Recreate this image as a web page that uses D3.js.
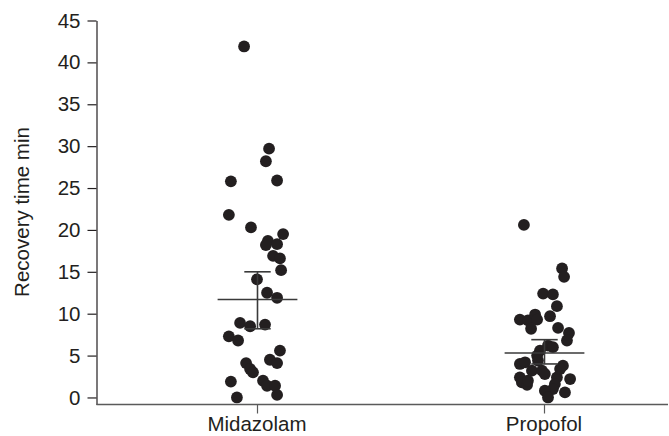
<!DOCTYPE html>
<html><head><meta charset="utf-8">
<script src="https://cdn.jsdelivr.net/npm/d3@7"></script>
<style>body{margin:0;background:#fff} text{font-family:"Liberation Sans",Arial,sans-serif;fill:#231f20}</style>
</head><body><svg id="c" width="669" height="436"></svg>
<script>
const categories = ["Midazolam", "Propofol"];
const midazolamValues = [41.9, 29.7, 28.2, 25.8, 25.9, 21.8, 20.3, 19.5, 18.7, 18.3, 18.2, 16.9, 16.6, 15.2, 14.1, 12.5, 11.9, 8.9, 8.5, 8.7, 7.3, 6.8, 5.6, 4.5, 4.1, 4.1, 3.4, 3.0, 2.0, 1.4, 1.4, 0.3, 1.9, 0.0];
const midazolamJitter = [-0.045, 0.042, 0.031, -0.091, 0.070, -0.098, -0.021, 0.091, 0.038, 0.070, 0.031, 0.056, 0.080, 0.084, 0.000, 0.035, 0.070, -0.059, -0.024, 0.028, -0.098, -0.066, 0.080, 0.045, 0.070, -0.038, -0.024, -0.014, 0.021, 0.035, 0.063, 0.070, -0.091, -0.070];
const propofolValues = [20.6, 15.4, 14.4, 12.4, 12.3, 10.9, 9.7, 9.3, 9.2, 9.9, 9.3, 8.2, 8.3, 7.7, 6.8, 6.2, 6.0, 5.6, 5.0, 4.4, 4.0, 4.2, 3.8, 3.2, 3.2, 2.8, 2.4, 1.8, 1.5, 2.0, 2.4, 1.6, 1.0, 2.2, 0.6, 0.8, 0.0, 3.4];
const propofolJitter = [-0.070, 0.063, 0.070, -0.003, 0.031, 0.045, 0.021, -0.084, -0.056, -0.031, -0.024, -0.045, 0.049, 0.087, 0.080, 0.014, 0.031, -0.014, -0.024, -0.021, -0.084, -0.066, 0.066, -0.042, -0.007, 0.003, -0.084, -0.077, -0.059, -0.056, 0.045, 0.038, 0.031, 0.091, 0.073, 0.003, 0.014, 0.056];
const means = [11.7, 5.3];
const lowerBars = [8.2, 4.0];
const upperBars = [15.0, 6.9];
const yTicks = [0, 5, 10, 15, 20, 25, 30, 35, 40, 45];
const yLabel = "Recovery time min";

const svg = d3.select("#c");
const W = 669, H = 436;
const axisX = 96.5, axisY = 404.5;

const y = d3.scaleLinear().domain([-0.84, 45]).range([axisY, 20.5]);
const x = d3.scalePoint().domain(categories).range([257, 544]).padding(0);
const step = x.step();

// Y axis
const yAxis = d3.axisLeft(y).tickValues(yTicks).tickSize(9).tickPadding(7).tickSizeOuter(0);
const gy = svg.append("g").attr("transform", `translate(${axisX},0)`).call(yAxis);
gy.attr("font-size", null).attr("font-family", null);
gy.select(".domain").attr("stroke", "#231f20").attr("stroke-width", 1.2);
gy.selectAll(".tick line").attr("stroke", "#231f20").attr("stroke-width", 1.2);
gy.selectAll(".tick text").style("font-size", "20.5px").attr("fill", "#231f20");

// X axis
const gx = svg.append("g").attr("transform", `translate(0,${axisY})`);
gx.append("line").attr("x1", axisX).attr("x2", 668).attr("y1", 0).attr("y2", 0)
  .attr("stroke", "#5a5a5a").attr("stroke-width", 1.5);
gx.selectAll(".xt").data(categories).enter().append("line")
  .attr("x1", d => x(d) + 0.5).attr("x2", d => x(d) + 0.5).attr("y1", 0).attr("y2", 9)
  .attr("stroke", "#5a5a5a").attr("stroke-width", 1.2);
gx.selectAll(".xl").data(categories).enter().append("text")
  .attr("x", d => x(d)).attr("y", 26.5).attr("text-anchor", "middle")
  .style("font-size", "20.5px").text(d => d);

// Y label
svg.append("text").attr("transform", `translate(29,${212}) rotate(-90)`)
  .attr("text-anchor", "middle").style("font-size", "20.5px").text(yLabel);

// Dots
const groups = [
  {cat: categories[0], values: midazolamValues, jitter: midazolamJitter},
  {cat: categories[1], values: propofolValues, jitter: propofolJitter}
];
groups.forEach(g => {
  svg.append("g").selectAll("circle").data(g.values).enter().append("circle")
    .attr("cx", (v, i) => x(g.cat) + g.jitter[i] * step)
    .attr("cy", v => y(v))
    .attr("r", 5.9)
    .attr("fill", "#231f20");
});

// Mean and error bars
const eb = svg.append("g").attr("stroke", "#3a3a3a").attr("stroke-width", 1.6).attr("fill", "none");
categories.forEach((c, i) => {
  const cx = x(c) + 0.5;
  eb.append("line").attr("x1", cx - 0.139 * step).attr("x2", cx + 0.139 * step)
    .attr("y1", y(means[i])).attr("y2", y(means[i]));
  eb.append("line").attr("x1", cx).attr("x2", cx)
    .attr("y1", y(lowerBars[i])).attr("y2", y(upperBars[i]));
  [lowerBars[i], upperBars[i]].forEach(v => {
    eb.append("line").attr("x1", cx - 0.046 * step).attr("x2", cx + 0.046 * step)
      .attr("y1", y(v)).attr("y2", y(v));
  });
});
</script></body></html>
